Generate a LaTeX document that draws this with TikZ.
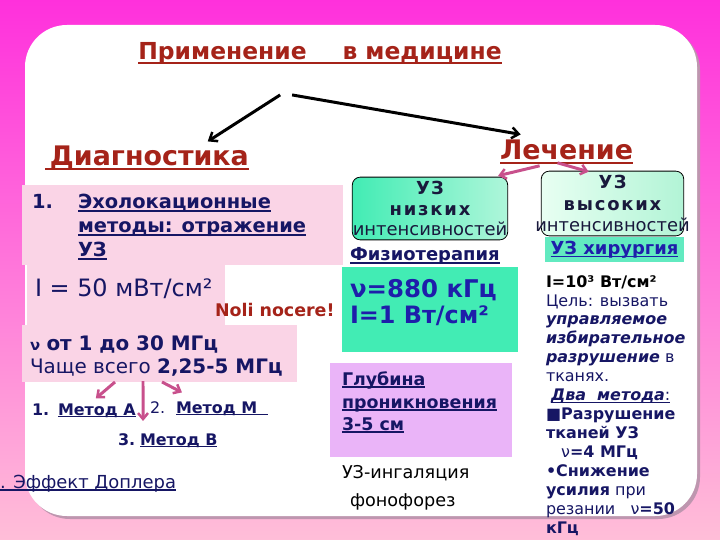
\documentclass[tikz,border=0pt]{standalone}
\usepackage{fontspec}
\setmainfont{DejaVu Sans}
\usetikzlibrary{arrows.meta}
\definecolor{navy}{RGB}{22,22,100}
\definecolor{dred}{RGB}{165,35,25}
\definecolor{pinkbox}{RGB}{250,212,230}
\definecolor{greenbox}{RGB}{66,236,180}
\definecolor{violetbox}{RGB}{234,180,248}
\definecolor{mauve}{RGB}{200,80,140}
\definecolor{bluetxt}{RGB}{30,30,170}
\definecolor{boxtxt}{RGB}{25,25,60}
\definecolor{magtop}{RGB}{255,48,220}
\definecolor{magmid}{RGB}{255,115,215}
\definecolor{magbot}{RGB}{255,190,216}
\newcommand{\fs}[2]{\fontsize{#1}{#2}\selectfont}
\newcommand{\myul}[1]{\setbox0\hbox{#1}\rlap{\rule[-0.15em]{\wd0}{0.075em}}\box0\vphantom{Ay}}
\begin{document}
\begin{tikzpicture}[x=1bp,y=-1bp,
  txt/.style={inner sep=0pt, outer sep=0pt, anchor=base west, text=navy},
  blkarrow/.style={line width=3pt, -{Straight Barb[length=7pt,width=11pt,line width=2.5pt]}},
  pinkarrow/.style={mauve, line width=3pt, -{Straight Barb[length=6pt,width=10pt,line width=2.5pt]}},
  greenround/.style={rounded corners=8pt, draw=black, line width=0.8pt, text=boxtxt, align=center, inner sep=0pt}
]
\useasboundingbox (0,0) rectangle (720,540);
% background
\shade[top color=magtop, middle color=magmid, bottom color=magbot] (0,0) rectangle (720,540);
\fill[rounded corners=42pt, color={rgb,255:red,190;green,150;blue,175}] (28,28) rectangle (700,519);
\fill[rounded corners=42pt, white] (25,25) rectangle (697,516);

% title and branches
\node[txt, anchor=base, text=dred, font=\fs{23.5}{28}\bfseries] (title) at (320,60) {\myul{Применение\hspace{36pt}в медицине}};
\node[txt, text=dred, font=\fs{27}{32}\bfseries] (diag) at (45,166) {\myul{\hspace{5pt}Диагностика}};
\node[txt, text=dred, font=\fs{27}{32}\bfseries] (lech) at (500,160) {\myul{Лечение}};
\draw[blkarrow] ([xshift=-40pt,yshift=-30pt]title.south) -- ([xshift=61pt,yshift=5pt]diag.north);
\draw[blkarrow] ([xshift=-28pt,yshift=-30pt]title.south) -- ([xshift=-46pt,yshift=6pt]lech.north);

% left column
\fill[pinkbox] (22,185) rectangle (343,265);
\node[txt, font=\fs{19.5}{24}\bfseries] (n1) at (32,209) {1.};
\node[txt, font=\fs{19.5}{24}\bfseries] (echo1) at (78,209) {\myul{Эхолокационные}};
\node[txt, font=\fs{19.5}{24}\bfseries] (echo2) at (78,233) {\myul{методы: отражение}};
\node[txt, font=\fs{19.5}{24}\bfseries] (echo3) at (78,257) {\myul{УЗ}};
\fill[pinkbox] (27,265) rectangle (225,325);
\node[txt, font=\fs{24}{28}] (int50) at (35,296) {I = 50 мВт/см²};
\node[txt, text=dred, font=\fs{17.5}{20}\bfseries] (noli) at (215,316) {Noli nocere!};
\fill[pinkbox] (22,325) rectangle (297,382);
\node[txt, font=\fs{20}{24}] (freq1) at (30,350) {{\fs{15}{20}\bfseries ν} \textbf{от 1 до 30 МГц}};
\node[txt, font=\fs{20}{24}] (freq2) at (30,373) {Чаще всего \textbf{2,25-5 МГц}};

\node[txt, font=\fs{16}{19}\bfseries] (m1) at (32,415) {1.};
\node[txt, font=\fs{16}{19}\bfseries] (ma) at (58,415) {\myul{Метод А}};
\node[txt, font=\fs{16}{19}] (m2) at (150,413) {2.};
\node[txt, font=\fs{16}{19}\bfseries] (mm) at (176,413) {\myul{Метод М\ \ }};
\node[txt, font=\fs{16}{19}\bfseries] (m3) at (118,445) {3.};
\node[txt, font=\fs{16}{19}\bfseries] (mb) at (140,445) {\myul{Метод В}};
\coordinate (fr1) at (115,382);
\coordinate (fr2) at (143,381);
\coordinate (fr3) at (162,382);
\draw[pinkarrow] (fr1) -- ([xshift=-1pt,yshift=5pt]ma.north);
\draw[pinkarrow] (fr2) -- ([xshift=-7pt,yshift=-8pt]m2.south west);
\draw[pinkarrow] (fr3) -- ([xshift=6pt,yshift=9pt]mm.north west);

\node[txt, font=\fs{18}{21}] (dopp) at (0,488) {\myul{. Эффект Доплера}};

% middle column
\node[greenround, left color=greenbox, right color={rgb,255:red,175;green,246;blue,218},
  minimum width=156pt, minimum height=63pt, font=\fs{18}{21}] (low) at (430,208.5)
  {{\bfseries\addfontfeature{LetterSpace=8}УЗ}\\ {\bfseries\addfontfeature{LetterSpace=10}низких}\\ \makebox[140pt]{интенсивностей}};
\node[greenround, left color={rgb,255:red,232;green,255;blue,242}, right color={rgb,255:red,178;green,244;blue,214},
  minimum width=143pt, minimum height=65pt, font=\fs{18}{21.5}] (high) at (612.5,203.5)
  {{\bfseries\addfontfeature{LetterSpace=8}УЗ}\\ {\bfseries\addfontfeature{LetterSpace=10}высоких}\\ \makebox[130pt]{интенсивностей}};
\draw[pinkarrow] ([xshift=-27pt,yshift=0pt]lech.south) -- ([xshift=-10pt,yshift=1pt]low.north east);
\draw[pinkarrow] ([xshift=-9pt,yshift=3pt]lech.south) -- ([xshift=-24pt,yshift=-1pt]high.north);

\node[txt, font=\fs{18}{21}\bfseries] (physio) at (350,261) {\myul{Физиотерапия}};
\fill[greenbox] (342,267) rectangle (518,352);
\node[txt, text=bluetxt, font=\fs{24.5}{28}\bfseries] (nu880) at (350,297) {ν=880 кГц};
\node[txt, text=bluetxt, font=\fs{24}{28}\bfseries] (i1) at (350,323) {I=1 Вт/см²};
\fill[violetbox] (330,363) rectangle (512,457);
\node[txt, font=\fs{17.5}{22}\bfseries] (depth1) at (342,385) {\myul{Глубина}};
\node[txt, font=\fs{17.5}{22}\bfseries] (depth2) at (342,408) {\myul{проникновения}};
\node[txt, font=\fs{17.5}{22}\bfseries] (depth3) at (342,430) {\myul{3-5 см}};
\node[txt, text=black, font=\fs{17.7}{21}] (inh) at (342,478) {УЗ-ингаляция};
\node[txt, text=black, font=\fs{17.7}{21}] (phono) at (350,506) {фонофорез};

% right column
\node[inner sep=0pt, fill={rgb,255:red,98;green,234;blue,192}, minimum width=139pt, minimum height=25pt,
  text=bluetxt, font=\fs{18}{21}\bfseries] (surg) at (614.5,249.5) {\myul{УЗ хирургия}};
\node[txt, anchor=north west, font=\fs{16}{19}, align=left] (right) at (546,275.3) {%
{\color{black}\textbf{I=10³ Вт/см²}}\\
Цель: вызвать\\
\textbf{\itshape управляемое}\\
\textbf{\itshape избирательное}\\
\textbf{\itshape разрушение} в\\
тканях.\\
\ \myul{\textbf{\itshape Два\ \ метода}:}\\
\textbf{■Разрушение}\\
\textbf{тканей УЗ}\\
\ \ \ ν\textbf{=4 МГц}\\
\textbf{•Снижение}\\
\textbf{усилия} при\\
резании\ \ \ ν\textbf{=50}\\
\textbf{кГц}};
\end{tikzpicture}
\end{document}
